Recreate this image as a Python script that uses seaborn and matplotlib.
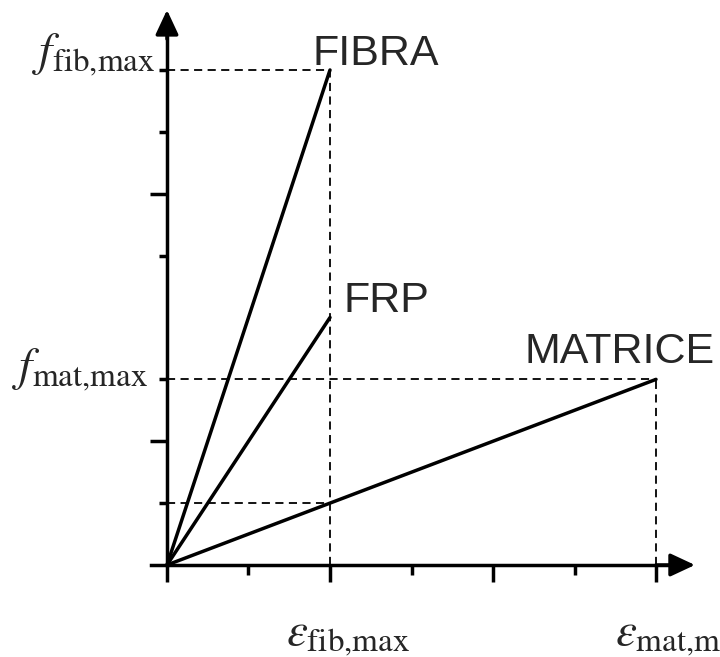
import matplotlib
matplotlib.use("Agg")
import matplotlib.pyplot as plt
import seaborn as sns
import pandas as pd

# diagramma tensione-deformazione (schematico): fibra, FRP, matrice
materials = ["FIBRA", "FRP", "MATRICE"]
strain_end = [1.0, 1.0, 3.0]     # eps_fib,max = 1, eps_mat,max = 3
stress_end = [8.0, 4.0, 3.0]     # f_fib,max = 8, f_FRP = 4, f_mat,max = 3

# linee tratteggiate di riferimento (x0, x1, y0, y1)
guide_x0 = [0.0, 1.0, 0.0, 3.0, 0.0]
guide_x1 = [1.0, 1.0, 3.0, 3.0, 1.0]
guide_y0 = [8.0, 0.0, 3.0, 0.0, 1.0]
guide_y1 = [8.0, 8.0, 3.0, 3.0, 1.0]

x_major = [0, 1, 2, 3]
x_minor = [0.5, 1.5, 2.5]
y_major = [2, 6]
y_minor = [1, 3, 5, 7, 8]

sns.set_style("white")
plt.rcParams["mathtext.fontset"] = "stix"
plt.rcParams["font.family"] = ["Liberation Sans", "DejaVu Sans"]

# dataframe: ogni materiale va dall'origine al punto di rottura
rows = []
for m, e, s in zip(materials, strain_end, stress_end):
    rows.append({"material": m, "strain": 0.0, "stress": 0.0})
    rows.append({"material": m, "strain": e, "stress": s})
df = pd.DataFrame(rows)

fig = plt.figure(figsize=(7.2, 6.57), dpi=100)
ax = fig.add_axes([0, 0, 1, 1])

for x0, x1, y0, y1 in zip(guide_x0, guide_x1, guide_y0, guide_y1):
    ax.plot([x0, x1], [y0, y1], color="k", lw=1.3, dashes=(4.5, 3), zorder=1)

sns.lineplot(data=df, x="strain", y="stress", hue="material",
             palette={m: "k" for m in materials}, lw=2.5, legend=False,
             sort=False, ax=ax, zorder=3)

ax.set_xlim(-1.0245, 3.3926)
ax.set_ylim(-1.487, 9.131)
ax.set_xlabel("")
ax.set_ylabel("")

# assi con frecce
for side in ["top", "right"]:
    ax.spines[side].set_visible(False)
ax.spines["left"].set_position(("data", 0))
ax.spines["bottom"].set_position(("data", 0))
ax.spines["left"].set_bounds(0, 8.7)
ax.spines["bottom"].set_bounds(-0.1, 3.1)
for side in ["left", "bottom"]:
    ax.spines[side].set_linewidth(2.5)
    ax.spines[side].set_color("k")

arrow = dict(arrowstyle="-|>,head_length=0.75,head_width=0.35", color="k",
             lw=2.5, shrinkA=0, shrinkB=0, mutation_scale=20)
ax.annotate("", xy=(3.239, 0), xytext=(3.0, 0), arrowprops=arrow)
ax.annotate("", xy=(0, 8.97), xytext=(0, 8.5), arrowprops=arrow)

ax.set_xticks(x_major)
ax.set_xticks(x_minor, minor=True)
ax.set_yticks(y_major)
ax.set_yticks(y_minor, minor=True)
ax.set_xticklabels([])
ax.set_yticklabels([])
ax.tick_params(axis="x", which="major", direction="out", length=12.2, width=2.5, color="k", bottom=True)
ax.tick_params(axis="x", which="minor", direction="out", length=7.2, width=2.5, color="k", bottom=True)
ax.tick_params(axis="y", which="major", direction="out", length=12, width=2.5, color="k", left=True)
ax.tick_params(axis="y", which="minor", direction="out", length=6, width=2.5, color="k", left=True)
ax.grid(False)

# etichette
ax.text(-0.074, 8.24, r"$f_{\mathrm{fib{,}max}}$", fontsize=34, ha="right", va="center")
ax.text(-0.117, 3.15, r"$f_{\mathrm{mat{,}max}}$", fontsize=34, ha="right", va="center")
ax.text(1.0 - 0.27, -1.14, r"$\varepsilon_{\mathrm{fib{,}max}}$", fontsize=34, ha="left", va="center")
ax.text(3.0 - 0.25, -1.14, r"$\varepsilon_{\mathrm{mat{,}max}}$", fontsize=34, ha="left", va="center")

ax.text(0.89, 8.08, "FIBRA", fontsize=31, ha="left", va="baseline")
ax.text(1.08, 4.09, "FRP", fontsize=31, ha="left", va="baseline")
ax.text(2.196, 3.265, "MATRICE", fontsize=31, ha="left", va="baseline")

fig.savefig("out.png", dpi=100, facecolor="white")
